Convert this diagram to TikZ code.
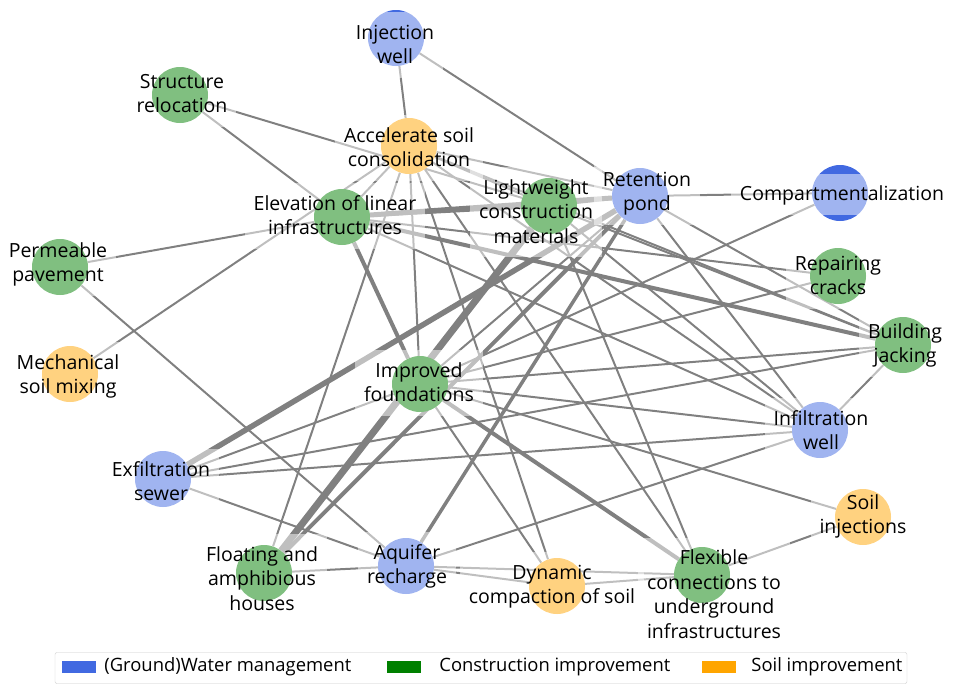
\documentclass[tikz,border=0pt]{standalone}
\usepackage{fontspec}
\setmainfont{Open Sans}
\usepackage{xcolor}
\usepackage{tikz}
\usetikzlibrary{backgrounds}
\definecolor{watercol}{RGB}{65,105,225}
\definecolor{buildcol}{RGB}{0,128,0}
\definecolor{soilcol}{RGB}{255,165,0}
\definecolor{edgecol}{RGB}{128,128,128}
\tikzstyle{measure} = [circle, minimum size=56pt, inner sep=0pt]
\tikzstyle{water} = [measure, fill=watercol]
\tikzstyle{build} = [measure, fill=buildcol]
\tikzstyle{soil} = [measure, fill=soilcol]
\tikzstyle{lbl} = [fill=white, fill opacity=0.5, text opacity=1, align=center,
	inner xsep=9pt, inner ysep=5pt, font=\fontsize{19.5}{24.5}\selectfont]
\tikzstyle{link} = [draw=edgecol, line width=2pt]
\tikzstyle{mid} = [link, line width=3pt]
\tikzstyle{heavy} = [link, line width=4pt]
\tikzstyle{legbox} = [minimum width=34pt, minimum height=12pt, inner sep=0pt]
\tikzstyle{legtxt} = [anchor=west, inner sep=0pt, font=\fontsize{18.4}{22}\selectfont]
\newcommand{\lbltop}{\rule{0pt}{22pt}}
\newcommand{\lblbot}{\rule[-9pt]{0pt}{9pt}}

\begin{document}
\begin{tikzpicture}[x=1pt, y=-1pt]
		\useasboundingbox (0,0) rectangle (955,694);
		% nodes
		\node[water] (iw) at (396,38) {};		% Injection well
		\node[soil] (asc) at (409,146) {};		% Accelerate soil consolidation
		\node[build] (sr) at (180,95) {};		% Structure relocation
		\node[build] (eli) at (342,217) {};		% Elevation of linear infrastructures
		\node[build] (lcm) at (549,206) {};		% Lightweight construction materials
		\node[water] (rp) at (640,196) {};		% Retention pond
		\node[water] (cmp) at (840,193) {};		% Compartmentalization
		\node[build] (pp) at (60,267) {};		% Permeable pavement
		\node[build] (rc) at (838,276) {};		% Repairing cracks
		\node[build] (bj) at (903,345) {};		% Building jacking
		\node[soil] (msm) at (70,374) {};		% Mechanical soil mixing
		\node[build] (imf) at (420,384) {};		% Improved foundations
		\node[water] (inw) at (820,430) {};		% Infiltration well
		\node[water] (es) at (163,479) {};		% Exfiltration sewer
		\node[soil] (si) at (863,517) {};		% Soil injections
		\node[build] (fah) at (264,573) {};		% Floating and amphibious houses
		\node[water] (ar) at (406,566) {};		% Aquifer recharge
		\node[soil] (dcs) at (557,586) {};		% Dynamic compaction of soil
		\node[build] (fc) at (702,575) {};		% Flexible connections
		
		% edges, behind the circles
		\begin{scope}[on background layer]
		\draw[heavy, line width=7pt] (fah) -- (lcm);
		\draw[heavy, line width=5.5pt] (es) -- (rp);
		\draw[heavy] (fah) -- (rp);
		\draw[heavy, line width=5pt] (eli) -- (rp);
		\draw[heavy] (eli) -- (bj);
		\draw[heavy] (eli) -- (imf);
		\draw[heavy] (imf) -- (fc);
		\draw[mid, line width=3.5pt] (ar) -- (rp);
		\draw[mid] (eli) -- (lcm);
		\draw[link] (iw) -- (asc);
		\draw[link] (iw) -- (rp);
		\draw[link] (sr) -- (eli);
		\draw[link] (sr) -- (lcm);
		\draw[link] (pp) -- (eli);
		\draw[link] (pp) -- (ar);
		\draw[link] (msm) -- (asc);
		\draw[link] (asc) -- (eli);
		\draw[link] (asc) -- (lcm);
		\draw[link] (asc) -- (rp);
		\draw[link] (asc) -- (imf);
		\draw[link] (asc) -- (fah);
		\draw[link] (asc) -- (dcs);
		\draw[link] (asc) -- (fc);
		\draw[link] (asc) -- (inw);
		\draw[link] (asc) -- (bj);
		\draw[link] (eli) -- (rc);
		\draw[link] (eli) -- (inw);
		\draw[link] (lcm) -- (rp);
		\draw[link] (lcm) -- (inw);
		\draw[link] (lcm) -- (fc);
		\draw[link] (lcm) -- (bj);
		\draw[link] (rp) -- (cmp);
		\draw[link] (rp) -- (bj);
		\draw[link] (rp) -- (inw);
		\draw[link] (imf) -- (rp);
		\draw[link] (imf) -- (cmp);
		\draw[link] (imf) -- (rc);
		\draw[link] (imf) -- (bj);
		\draw[link] (imf) -- (inw);
		\draw[link] (imf) -- (si);
		\draw[link] (imf) -- (dcs);
		\draw[link] (imf) -- (es);
		\draw[link] (es) -- (bj);
		\draw[link] (es) -- (inw);
		\draw[link] (es) -- (ar);
		\draw[link] (fah) -- (ar);
		\draw[link] (ar) -- (dcs);
		\draw[link] (ar) -- (inw);
		\draw[link] (ar) -- (fc);
		\draw[link] (dcs) -- (fc);
		\draw[link] (fc) -- (si);
		\draw[link] (inw) -- (bj);
		\end{scope}
		
		% labels, half transparent boxes over circles and edges
		\node[lbl] (iw-l) at (395,45) {\lbltop Injection\\well\lblbot};
		\node[lbl] (asc-l) at (409,148) {\lbltop Accelerate soil\\consolidation\lblbot};
		\node[lbl] (sr-l) at (182,94) {\lbltop Structure\\relocation\lblbot};
		\node[lbl] (eli-l) at (335,216) {\lbltop Elevation of linear\\infrastructures\lblbot};
		\node[lbl] (lcm-l) at (536,212) {\lbltop Lightweight\\construction\\materials\lblbot};
		\node[lbl] (rp-l) at (647,192) {\lbltop Retention\\pond\lblbot};
		\node[lbl] (cmp-l) at (842,194) {\lbltop Compartmentalization\lblbot};
		\node[lbl] (pp-l) at (58,263) {\lbltop Permeable\\pavement\lblbot};
		\node[lbl] (rc-l) at (838,276) {\lbltop Repairing\\cracks\lblbot};
		\node[lbl] (bj-l) at (905,344) {\lbltop Building\\jacking\lblbot};
		\node[lbl] (msm-l) at (68,375) {\lbltop Mechanical\\soil mixing\lblbot};
		\node[lbl] (imf-l) at (419,383) {\lbltop Improved\\foundations\lblbot};
		\node[lbl] (inw-l) at (821,431) {\lbltop Infiltration\\well\lblbot};
		\node[lbl] (es-l) at (161,482) {\lbltop Exfiltration\\sewer\lblbot};
		\node[lbl] (si-l) at (863,515) {\lbltop Soil\\injections\lblbot};
		\node[lbl] (fah-l) at (262,579) {\lbltop Floating and\\amphibious\\houses\lblbot};
		\node[lbl] (ar-l) at (407,565) {\lbltop Aquifer\\recharge\lblbot};
		\node[lbl] (dcs-l) at (552,585) {\lbltop Dynamic\\compaction of soil\lblbot};
		\node[lbl] (fc-l) at (714,595) {\lbltop Flexible\\connections to\\underground\\infrastructures\lblbot};
		
		% legend
		\node[draw=black!20, fill=white, rounded corners=2pt, minimum width=852pt, minimum height=31pt, inner sep=0pt] (legend) at (481,668) {};
		\node[legbox, fill=watercol] (leg-w) at (79,667) {};
		\node[legtxt, right=8pt] (leg-w-t) at (leg-w.east) {(Ground)Water management};
		\node[legbox, fill=buildcol] (leg-b) at (404,667) {};
		\node[legtxt, right=18pt] (leg-b-t) at (leg-b.east) {Construction improvement};
		\node[legbox, fill=soilcol] (leg-s) at (719,667) {};
		\node[legtxt, right=15pt] (leg-s-t) at (leg-s.east) {Soil improvement};
\end{tikzpicture}
\end{document}
